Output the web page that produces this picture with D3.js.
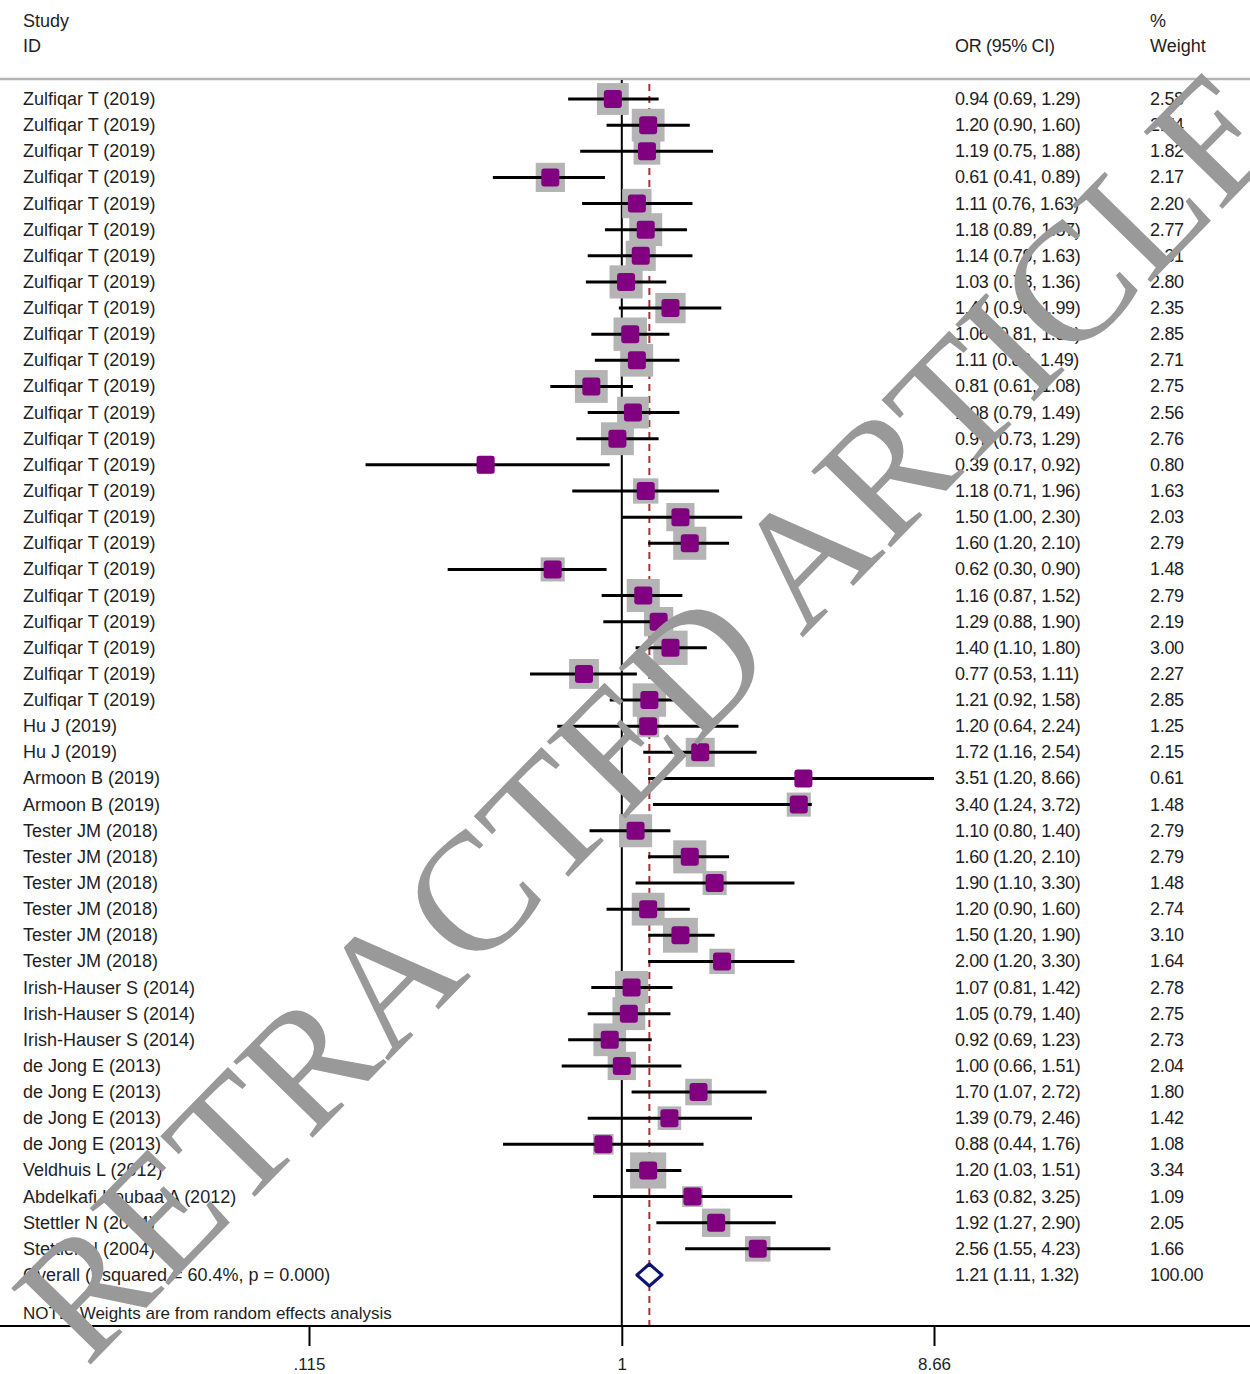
<!DOCTYPE html>
<html><head><meta charset="utf-8">
<script src="https://cdn.jsdelivr.net/npm/d3@7"></script>
<style>
body{margin:0;background:#fff}
svg{display:block}
text{font-family:"Liberation Sans",Arial,sans-serif}
text.wm{font-family:"Liberation Serif","Times New Roman",serif}
</style>
</head><body>
<svg id="chart" width="1250" height="1374"></svg>
<script>
// ---------- data ----------
const studies = [
 "Zulfiqar T (2019)","Zulfiqar T (2019)","Zulfiqar T (2019)","Zulfiqar T (2019)","Zulfiqar T (2019)",
 "Zulfiqar T (2019)","Zulfiqar T (2019)","Zulfiqar T (2019)","Zulfiqar T (2019)","Zulfiqar T (2019)",
 "Zulfiqar T (2019)","Zulfiqar T (2019)","Zulfiqar T (2019)","Zulfiqar T (2019)","Zulfiqar T (2019)",
 "Zulfiqar T (2019)","Zulfiqar T (2019)","Zulfiqar T (2019)","Zulfiqar T (2019)","Zulfiqar T (2019)",
 "Zulfiqar T (2019)","Zulfiqar T (2019)","Zulfiqar T (2019)","Zulfiqar T (2019)",
 "Hu J (2019)","Hu J (2019)","Armoon B (2019)","Armoon B (2019)",
 "Tester JM (2018)","Tester JM (2018)","Tester JM (2018)","Tester JM (2018)","Tester JM (2018)","Tester JM (2018)",
 "Irish-Hauser S (2014)","Irish-Hauser S (2014)","Irish-Hauser S (2014)",
 "de Jong E (2013)","de Jong E (2013)","de Jong E (2013)","de Jong E (2013)",
 "Veldhuis L (2012)","Abdelkafi Koubaa A (2012)","Stettler N (2004)","Stettler N (2004)"
];
const oddsRatio = [0.94,1.20,1.19,0.61,1.11,1.18,1.14,1.03,1.40,1.06,1.11,0.81,1.08,0.97,0.39,1.18,1.50,1.60,0.62,1.16,1.29,1.40,0.77,1.21,
 1.20,1.72,3.51,3.40,1.10,1.60,1.90,1.20,1.50,2.00,1.07,1.05,0.92,1.00,1.70,1.39,0.88,1.20,1.63,1.92,2.56];
const ciLower = [0.69,0.90,0.75,0.41,0.76,0.89,0.79,0.78,0.98,0.81,0.83,0.61,0.79,0.73,0.17,0.71,1.00,1.20,0.30,0.87,0.88,1.10,0.53,0.92,
 0.64,1.16,1.20,1.24,0.80,1.20,1.10,0.90,1.20,1.20,0.81,0.79,0.69,0.66,1.07,0.79,0.44,1.03,0.82,1.27,1.55];
const ciUpper = [1.29,1.60,1.88,0.89,1.63,1.57,1.63,1.36,1.99,1.39,1.49,1.08,1.49,1.29,0.92,1.96,2.30,2.10,0.90,1.52,1.90,1.80,1.11,1.58,
 2.24,2.54,8.66,3.72,1.40,2.10,3.30,1.60,1.90,3.30,1.42,1.40,1.23,1.51,2.72,2.46,1.76,1.51,3.25,2.90,4.23];
const weights = [2.58,2.74,1.82,2.17,2.20,2.77,2.31,2.80,2.35,2.85,2.71,2.75,2.56,2.76,0.80,1.63,2.03,2.79,1.48,2.79,2.19,3.00,2.27,2.85,
 1.25,2.15,0.61,1.48,2.79,2.79,1.48,2.74,3.10,1.64,2.78,2.75,2.73,2.04,1.80,1.42,1.08,3.34,1.09,2.05,1.66];
const overallLabel = "Overall  (I-squared = 60.4%, p = 0.000)";
const overallOR = 1.21, overallLower = 1.11, overallUpper = 1.32, overallWeight = "100.00";
const tickValues = [0.115, 1, 8.66];
const tickLabels = [".115", "1", "8.66"];
const noteText = "NOTE: Weights are from random effects analysis";
const watermark = "RETRACTED ARTICLE";

// ---------- drawing ----------
const svg = d3.select("#chart");
const W = 1250;
const x = d3.scaleLog().domain([0.115, 8.66]).range([309, 934]);
const nRows = studies.length + 1;
const y = d3.scaleLinear().domain([0, nRows - 1]).range([99, 1275]);
const fmt = d3.format(".2f");
const axisY = 1326;
const textColor = "#1e1e1e";
const fs = 18;

// header
const hdr = svg.append("g").attr("fill", textColor).attr("font-size", fs);
hdr.append("text").attr("x", 23).attr("y", 27).text("Study");
hdr.append("text").attr("x", 23).attr("y", 52).text("ID");
hdr.append("text").attr("x", 955).attr("y", 52).attr("letter-spacing", -0.3).text("OR (95% CI)");
hdr.append("text").attr("x", 1150).attr("y", 27).text("%");
hdr.append("text").attr("x", 1150).attr("y", 52).text("Weight");
svg.append("line").attr("x1", 0).attr("x2", W).attr("y1", 79).attr("y2", 79)
  .attr("stroke", "#b4b4b4").attr("stroke-width", 2.5);

// reference lines
svg.append("line").attr("x1", x(1)).attr("x2", x(1)).attr("y1", 80).attr("y2", axisY)
  .attr("stroke", "#000").attr("stroke-width", 2);
svg.append("line").attr("x1", x(overallOR)).attr("x2", x(overallOR)).attr("y1", 84).attr("y2", axisY)
  .attr("stroke", "#a8323a").attr("stroke-width", 2).attr("stroke-dasharray", "7,5");

const rows = studies.map((s, i) => ({s, or: oddsRatio[i], lo: ciLower[i], hi: ciUpper[i], w: weights[i], i}));

// weight boxes
const boxK = 19.8;
svg.append("g").selectAll("rect").data(rows).join("rect")
  .attr("x", d => x(d.or) - boxK * Math.sqrt(d.w) / 2)
  .attr("y", d => y(d.i) - boxK * Math.sqrt(d.w) / 2)
  .attr("width", d => boxK * Math.sqrt(d.w))
  .attr("height", d => boxK * Math.sqrt(d.w))
  .attr("fill", "#b4b4b4");

// CI lines
svg.append("g").selectAll("line").data(rows).join("line")
  .attr("x1", d => x(d.lo)).attr("x2", d => x(d.hi))
  .attr("y1", d => y(d.i)).attr("y2", d => y(d.i))
  .attr("stroke", "#000").attr("stroke-width", 3);

// point estimates
const ps = 18;
svg.append("g").selectAll("rect").data(rows).join("rect")
  .attr("x", d => x(d.or) - ps / 2).attr("y", d => y(d.i) - ps / 2)
  .attr("width", ps).attr("height", ps).attr("rx", 3)
  .attr("fill", "#800080");

// overall diamond
const oy = y(nRows - 1);
svg.append("path")
  .attr("d", `M${x(overallLower)},${oy} L${x(overallOR)},${oy - 11} L${x(overallUpper)},${oy} L${x(overallOR)},${oy + 11} Z`)
  .attr("fill", "#fff").attr("stroke", "#0c1670").attr("stroke-width", 3).attr("stroke-linejoin", "round");

// text columns
const tg = svg.append("g").attr("fill", textColor).attr("font-size", fs);
tg.selectAll("text.st").data(rows).join("text").attr("class", "st")
  .attr("x", 23).attr("y", d => y(d.i) + 6).text(d => d.s);
tg.selectAll("text.ci").data(rows).join("text").attr("class", "ci")
  .attr("x", 955).attr("y", d => y(d.i) + 6).attr("letter-spacing", -0.4)
  .text(d => `${fmt(d.or)} (${fmt(d.lo)}, ${fmt(d.hi)})`);
tg.selectAll("text.wt").data(rows).join("text").attr("class", "wt")
  .attr("x", 1150).attr("y", d => y(d.i) + 6).attr("letter-spacing", -0.3).text(d => fmt(d.w));
tg.append("text").attr("x", 23).attr("y", oy + 6).text(overallLabel);
tg.append("text").attr("x", 955).attr("y", oy + 6).attr("letter-spacing", -0.4)
  .text(`${fmt(overallOR)} (${fmt(overallLower)}, ${fmt(overallUpper)})`);
tg.append("text").attr("x", 1150).attr("y", oy + 6).attr("letter-spacing", -0.3).text(overallWeight);
tg.append("text").attr("x", 23).attr("y", 1319).attr("font-size", 17).text(noteText);

// axis
svg.append("line").attr("x1", 0).attr("x2", W).attr("y1", axisY).attr("y2", axisY)
  .attr("stroke", "#000").attr("stroke-width", 2);
const ax = svg.append("g").attr("transform", `translate(0,${axisY})`)
  .call(d3.axisBottom(x).tickValues(tickValues).tickFormat((d, i) => tickLabels[i]).tickSize(20).tickPadding(12));
ax.select(".domain").remove();
ax.selectAll(".tick line").attr("stroke", "#000").attr("stroke-width", 2);
ax.selectAll(".tick text").attr("font-size", 17).attr("fill", textColor);

// watermark
svg.append("text").attr("class", "wm")
  .attr("transform", "translate(648,714) rotate(-45.6)")
  .attr("text-anchor", "middle").attr("dominant-baseline", "central")
  .attr("font-size", 168).attr("fill", "#999999")
  .text(watermark);
</script>
</body></html>
